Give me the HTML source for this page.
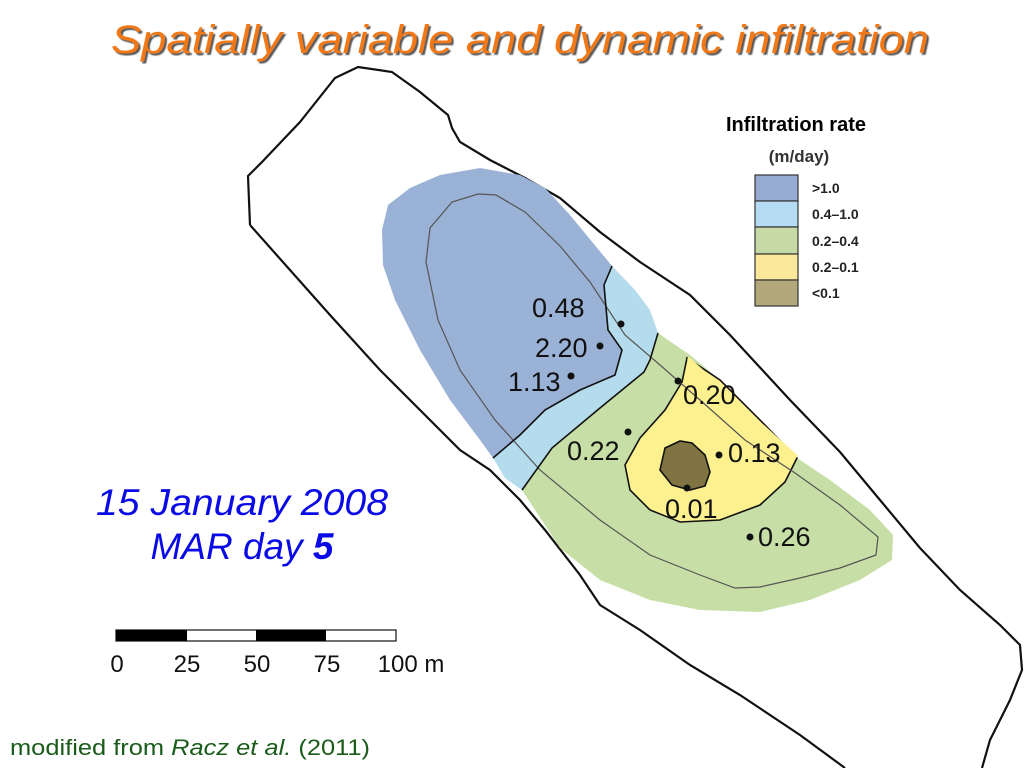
<!DOCTYPE html>
<html><head><meta charset="utf-8"><style>
html,body{margin:0;padding:0;background:#fff;}
svg{display:block;font-family:"Liberation Sans",sans-serif;}
</style></head><body>
<svg width="1024" height="768" viewBox="0 0 1024 768">
<defs><filter id="sh" x="-5%" y="-20%" width="110%" height="140%"><feDropShadow dx="2" dy="2" stdDeviation="0.6" flood-color="#333" flood-opacity="0.8"/></filter></defs>
<text x="520" y="53" text-anchor="middle" font-size="40" font-style="italic" fill="#f07814" filter="url(#sh)" textLength="818" lengthAdjust="spacingAndGlyphs">Spatially variable and dynamic infiltration</text>

<path fill="none" stroke="#111" stroke-width="2.2" d="M250,225 L248,176 L262,162 L300,122 L335,78 L358,67 L392,72 L420,92 L448,115 L452,128 L460,142 L490,160 L525,178 L560,198 L600,232 L640,262 L690,295 L730,335 L790,400 L840,452 L880,500 L920,548 L960,590 L1000,625 L1020,645 L1022,670 L1010,700 L990,740 L982,768 M250,225 L290,270 L330,315 L380,370 L420,410 L460,450 L490,470 L520,500 L545,530 L580,575 L600,605 L640,630 L690,665 L740,695 L800,735 L845,768"/>

<path fill="#9ab2d6" d="M382,230 L388,205 L410,188 L440,175 L480,168 L520,175 L545,188 L570,215 L612,266 L604,285 L608,330 L622,350 L615,375 L580,390 L545,410 L520,435 L493,458 L480,440 L450,400 L420,350 L395,300 L383,265 Z"/>
<path fill="#b5dced" d="M612,266 L635,290 L650,310 L658,333 L644,372 L600,408 L552,448 L522,490 L505,478 L493,458 L520,435 L545,410 L580,390 L615,375 L622,350 L608,330 L604,285 Z"/>
<path fill="#c7dfa6" d="M658,333 L690,355 L720,380 L760,420 L797,458 L830,480 L870,510 L893,535 L892,560 L860,580 L810,600 L760,612 L700,610 L650,600 L600,580 L560,548 L522,490 L552,448 L600,408 L644,372 Z"/>
<path fill="#fdf08e" stroke="#111" stroke-width="1.6" d="M687,358 L682,382 L665,410 L640,438 L625,465 L630,490 L650,510 L680,522 L720,520 L760,505 L785,482 L797,458 L760,420 L720,380 Z"/>
<path fill="none" stroke="#fdf08e" stroke-width="3" d="M688,358 L797,457"/>
<path fill="#7f7442" stroke="#111" stroke-width="1.6" d="M665,448 L680,441 L692,443 L705,455 L710,472 L705,486 L690,490 L672,485 L660,470 Z"/>

<path fill="none" stroke="#555" stroke-width="1.2" d="M426,262 L430,228 L452,202 L478,194 L496,195 L525,212 L560,246 L590,282 L625,335 L660,365 L700,400 L745,440 L795,473 L840,505 L878,537 L876,555 L840,568 L800,578 L760,587 L735,588 L700,575 L650,555 L600,520 L540,470 L495,420 L460,370 L438,320 Z"/>
<path fill="none" stroke="#111" stroke-width="1.6" d="M612,266 L604,285 L608,330 L622,350 L615,375 L580,390 L545,410 L520,435 L493,458"/>
<path fill="none" stroke="#111" stroke-width="1.6" d="M658,333 L650,360 L644,372 L600,408 L552,448 L522,490"/>

<g font-size="27" fill="#111">
<circle cx="621" cy="324" r="3.5"/><text x="532" y="317">0.48</text>
<circle cx="600" cy="346" r="3.5"/><text x="535" y="357">2.20</text>
<circle cx="571" cy="376" r="3.5"/><text x="508" y="391">1.13</text>
<circle cx="678" cy="381" r="3.5"/><text x="683" y="404">0.20</text>
<circle cx="628" cy="432" r="3.5"/><text x="567" y="460">0.22</text>
<circle cx="719" cy="455" r="3.5"/><text x="728" y="462">0.13</text>
<circle cx="687" cy="488" r="3.5"/><text x="665" y="518">0.01</text>
<circle cx="750" cy="537" r="3.5"/><text x="758" y="546">0.26</text>
</g>

<g font-weight="bold" fill="#222">
<text x="796" y="131" text-anchor="middle" font-size="20" fill="#000">Infiltration rate</text>
<text x="799" y="162" text-anchor="middle" font-size="17" fill="#333">(m/day)</text>
<g stroke="#333" stroke-width="1.2">
<rect x="755" y="175" width="43" height="26" fill="#96acd2"/>
<rect x="755" y="201" width="43" height="26" fill="#b5dcf2"/>
<rect x="755" y="227" width="43" height="27" fill="#c6daa8"/>
<rect x="755" y="254" width="43" height="26" fill="#fbe89a"/>
<rect x="755" y="280" width="43" height="26" fill="#b3a87c"/>
</g>
<g font-size="14">
<text x="812" y="193">&gt;1.0</text>
<text x="812" y="219">0.4–1.0</text>
<text x="812" y="246">0.2–0.4</text>
<text x="812" y="272">0.2–0.1</text>
<text x="812" y="298">&lt;0.1</text>
</g>
</g>

<g fill="#0a0ae6" font-style="italic" font-size="37" text-anchor="middle">
<text x="242" y="515" textLength="292" lengthAdjust="spacingAndGlyphs">15 January 2008</text>
<text x="242" y="559">MAR day <tspan font-weight="bold">5</tspan></text>
</g>

<g>
<rect x="116" y="630" width="280" height="11" fill="#fff" stroke="#111" stroke-width="1.2"/>
<rect x="116" y="630" width="71" height="11" fill="#000"/>
<rect x="256" y="630" width="70" height="11" fill="#000"/>
<g font-size="24" fill="#111" text-anchor="middle">
<text x="117" y="672">0</text><text x="187" y="672">25</text><text x="257" y="672">50</text><text x="327" y="672">75</text><text x="411" y="672">100 m</text>
</g>
</g>

<text x="10" y="755" font-size="22" fill="#1a5c1a" textLength="360" lengthAdjust="spacingAndGlyphs">modified from <tspan font-style="italic">Racz et al.</tspan> (2011)</text>
</svg>
</body></html>
